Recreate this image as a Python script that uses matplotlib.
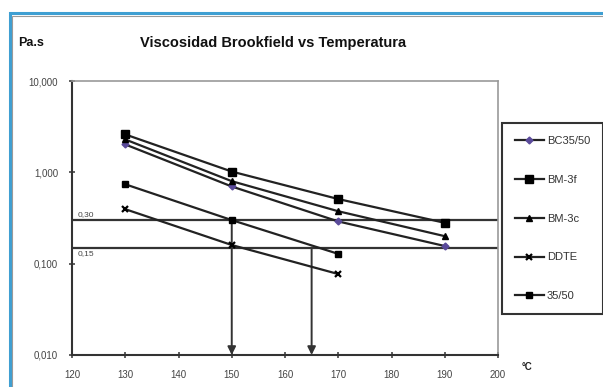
import matplotlib
matplotlib.use("Agg")
import matplotlib.pyplot as plt
from matplotlib.patches import Rectangle

plt.rcParams['font.family'] = ['Liberation Sans', 'DejaVu Sans']

# Temperatures (°C) and Brookfield viscosity (Pa.s) per binder
temps = [130, 150, 170, 190]
temps_short = [130, 150, 170]
bc3550 = [2.02, 0.70, 0.29, 0.156]
bm3f = [2.6, 1.02, 0.51, 0.28]
bm3c = [2.29, 0.80, 0.375, 0.20]
ddte = [0.395, 0.16, 0.077]
b3550 = [0.74, 0.30, 0.128]

# Reference viscosity levels and the temperatures they give for 35/50
ref_levels = [0.30, 0.15]
ref_labels = ["0,30", "0,15"]
ref_temps = [150, 165]

yticks = [0.01, 0.1, 1, 10]
ytick_labels = ["0,010", "0,100", "1,000", "10,000"]
xticks = [120, 130, 140, 150, 160, 170, 180, 190, 200]

W, H = 603, 387
fig = plt.figure(figsize=(W / 100, H / 100), dpi=100)
fig.patch.set_facecolor('white')

# outer frame
fig.patches.append(Rectangle((10 / W, -0.2), 1.2, 1.2 - 13 / H,
                             transform=fig.transFigure, fill=False,
                             edgecolor='#3f9fd2', lw=2.2, zorder=0))
fig.patches.append(Rectangle((12 / W, -0.2), 1.2, 1.2 - 16 / H,
                             transform=fig.transFigure, fill=False,
                             edgecolor='#9a9a9a', lw=0.8, zorder=0))

ax = fig.add_axes([72 / W, 1 - 355 / H, (498 - 72) / W, (355 - 81) / H])
ax.set_yscale('log')
ax.set_xlim(120, 200)
ax.set_ylim(0.01, 10)

line_col = '#222222'
ax.plot(temps, bc3550, color=line_col, lw=1.6, marker='D', ms=3.5,
        mfc='#5a4a9a', mec='#5a4a9a', label='BC35/50', zorder=3)
ax.plot(temps, bm3f, color=line_col, lw=1.6, marker='s', ms=5.5,
        mfc='black', mec='black', label='BM-3f', zorder=3)
ax.plot(temps, bm3c, color=line_col, lw=1.6, marker='^', ms=5,
        mfc='black', mec='black', label='BM-3c', zorder=3)
ax.plot(temps_short, ddte, color=line_col, lw=1.6, marker='x', ms=5,
        mew=1.6, mec='black', label='DDTE', zorder=3)
ax.plot(temps_short, b3550, color=line_col, lw=1.6, marker='s', ms=4,
        mfc='black', mec='black', label='35/50', zorder=3)

for lvl in ref_levels:
    ax.axhline(lvl, color='#333333', lw=1.6, zorder=2)
ax.text(121, ref_levels[0] * 1.06, ref_labels[0], fontsize=6,
        color='#444444', va='bottom', ha='left')
ax.text(121, ref_levels[1] * 0.93, ref_labels[1], fontsize=6,
        color='#444444', va='top', ha='left')

for t, lvl in zip(ref_temps, ref_levels):
    ax.annotate('', xy=(t, 0.01), xytext=(t, lvl),
                arrowprops=dict(arrowstyle='-|>', color='#333333', lw=1.4,
                                mutation_scale=12, shrinkA=0, shrinkB=0),
                zorder=2)

ax.set_yticks(yticks)
ax.set_yticklabels(ytick_labels)
ax.minorticks_off()
ax.set_xticks(xticks)
ax.set_xticklabels([str(x) for x in xticks])
ax.tick_params(axis='both', labelsize=7, colors='#444444', direction='inout',
               length=4, width=1.2)
ax.tick_params(axis='y', pad=8)
ax.tick_params(axis='x', pad=9)

for s in ['left', 'bottom']:
    ax.spines[s].set_color('#333333')
    ax.spines[s].set_linewidth(1.5)
for s in ['top', 'right']:
    ax.spines[s].set_color('#999999')
    ax.spines[s].set_linewidth(1.2)

fig.text(273 / W, 1 - 43 / H, 'Viscosidad Brookfield vs Temperatura',
         fontsize=10.5, fontweight='bold', ha='center', va='center',
         color='#111111')
fig.text(18 / W, 1 - 43 / H, 'Pa.s', fontsize=9, fontweight='bold',
         ha='left', va='center', color='#111111')
fig.text(522 / W, 1 - 367 / H, '°C', fontsize=7, fontweight='bold',
         ha='left', va='center', color='#222222')

leg = ax.legend(loc='upper left', bbox_to_anchor=(502 / W, 1 - 123 / H),
                bbox_transform=fig.transFigure, borderaxespad=0,
                fancybox=False, fontsize=8, labelspacing=2.6,
                handlelength=2.6, handletextpad=0.3, borderpad=1.15,
                framealpha=1)
leg.get_frame().set_edgecolor('#333333')
leg.get_frame().set_linewidth(1.5)
for txt in leg.get_texts():
    txt.set_color('#333333')

fig.savefig('out.png', dpi=100)
